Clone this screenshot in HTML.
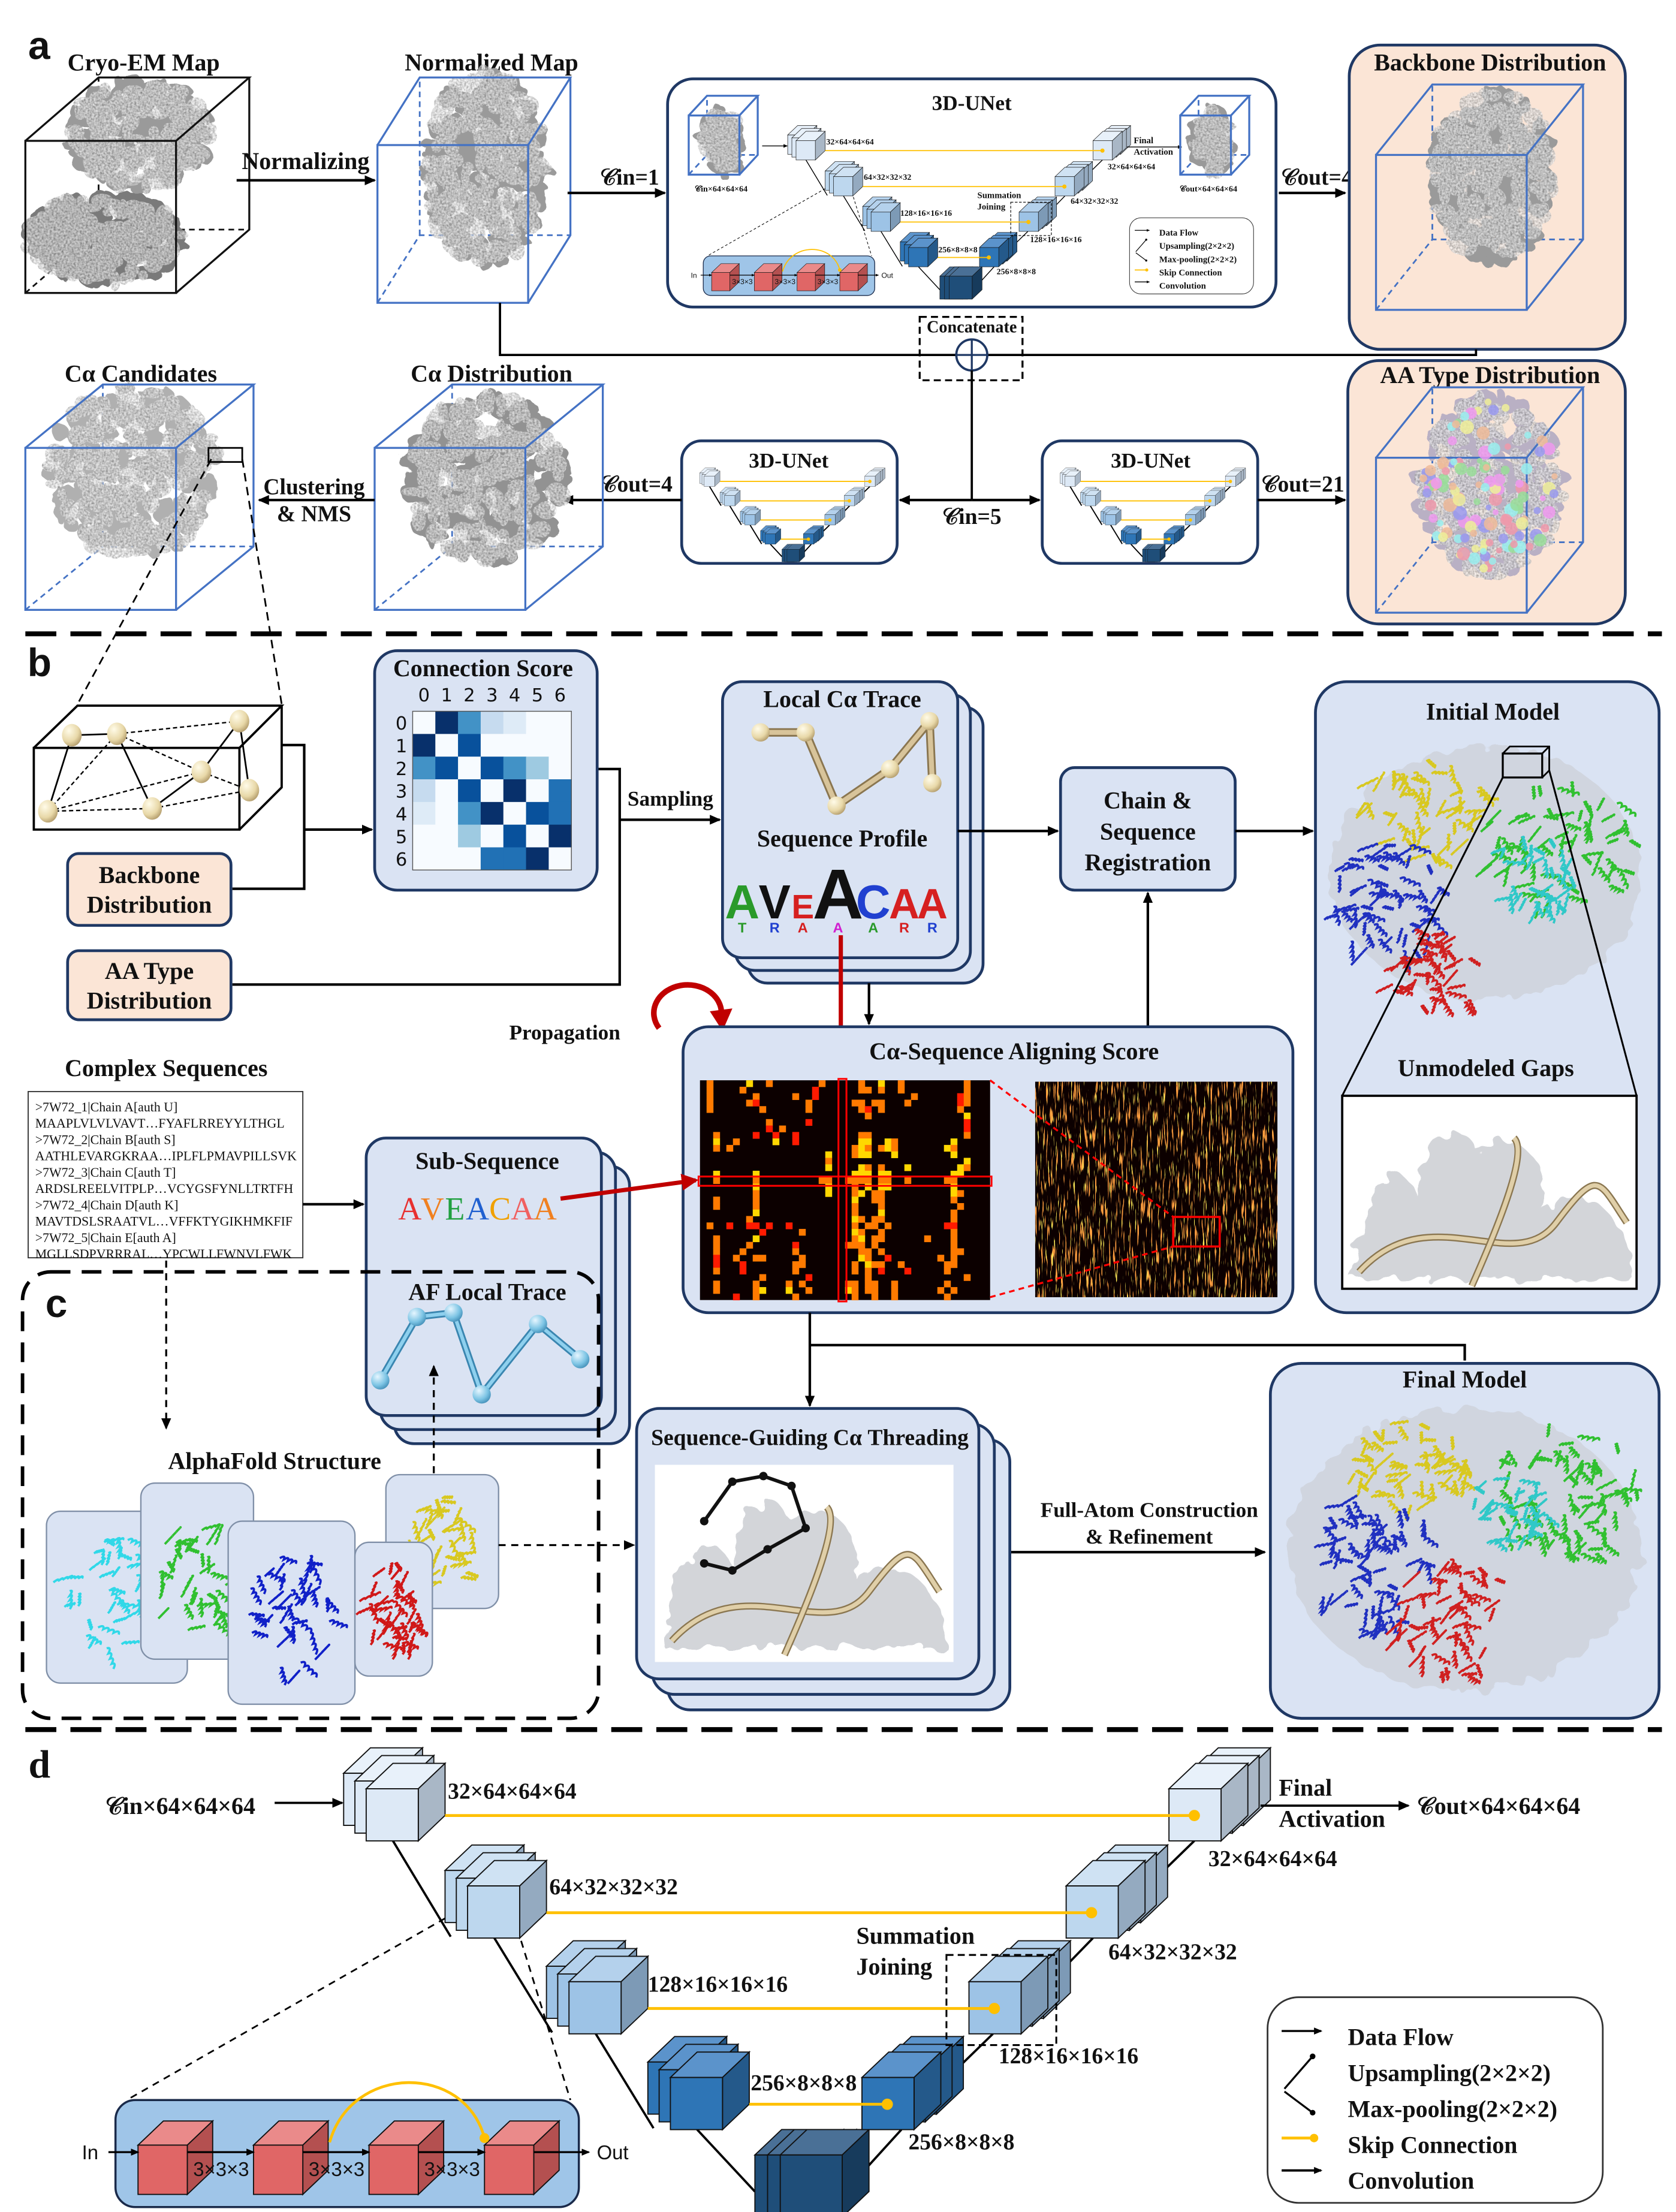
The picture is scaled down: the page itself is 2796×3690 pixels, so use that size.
<!DOCTYPE html>
<html><head><meta charset="utf-8">
<style>
html,body{margin:0;padding:0;background:#fff;}
svg{display:block;}
text{font-family:"Liberation Serif",serif;font-weight:bold;}
</style></head>
<body>
<svg id="fig" xmlns="http://www.w3.org/2000/svg" width="2796" height="3690" viewBox="0 0 1190 1570.5">
<defs>
<filter id="grain" x="0" y="0" width="100%" height="100%">
<feTurbulence type="fractalNoise" baseFrequency="0.7" numOctaves="2" seed="3" result="n"/>
<feColorMatrix in="n" type="matrix" values="1.2 0 0 0 0 1.2 0 0 0 0 1.2 0 0 0 0 0 0 0 0 1" result="g"/>
<feComposite in="g" in2="SourceGraphic" operator="in"/>
</filter>
<filter id="rough"><feTurbulence type="fractalNoise" baseFrequency="0.12" numOctaves="2" seed="7" result="t"/><feDisplacementMap in="SourceGraphic" in2="t" scale="6"/></filter>
<filter id="rough2"><feTurbulence type="fractalNoise" baseFrequency="0.08" numOctaves="2" seed="7" result="t"/><feDisplacementMap in="SourceGraphic" in2="t" scale="14"/></filter>
<filter id="streak" x="0" y="0" width="100%" height="100%">
<feTurbulence type="fractalNoise" baseFrequency="0.9 0.06" numOctaves="2" seed="5" result="n"/>
<feColorMatrix in="n" type="matrix" values="0 0 0 0 1  0 0 0 0 0.35  0 0 0 0 0.05  14 0 0 0 -8.6" result="a"/>
<feComposite in="a" in2="SourceGraphic" operator="in"/>
</filter>
<filter id="streak2" x="0" y="0" width="100%" height="100%">
<feTurbulence type="fractalNoise" baseFrequency="1.1 0.08" numOctaves="2" seed="19" result="n"/>
<feColorMatrix in="n" type="matrix" values="0 0 0 0 1  0 0 0 0 0.85  0 0 0 0 0.1  14 0 0 0 -9.4" result="a"/>
<feComposite in="a" in2="SourceGraphic" operator="in"/>
</filter>
<marker id="ah" markerWidth="8" markerHeight="8" refX="7" refY="4" orient="auto" markerUnits="userSpaceOnUse"><path d="M0,0.5 L8,4 L0,7.5 z" fill="#000"/></marker>
<marker id="ahs" markerWidth="6" markerHeight="6" refX="5" refY="3" orient="auto" markerUnits="userSpaceOnUse"><path d="M0,0.5 L6,3 L0,5.5 z" fill="#000"/></marker>
<marker id="ahr" markerWidth="12" markerHeight="12" refX="10" refY="6" orient="auto" markerUnits="userSpaceOnUse"><path d="M0,0 L12,6 L0,12 z" fill="#c00000"/></marker>
<radialGradient id="ball" cx="0.35" cy="0.3" r="0.8"><stop offset="0" stop-color="#fffbe8"/><stop offset="0.6" stop-color="#e8d8a8"/><stop offset="1" stop-color="#a89060"/></radialGradient>
<radialGradient id="ballb" cx="0.35" cy="0.3" r="0.8"><stop offset="0" stop-color="#e6f6ff"/><stop offset="0.6" stop-color="#7cc4e4"/><stop offset="1" stop-color="#3a86b0"/></radialGradient>
</defs>
<g id="root"></g>
</svg>
<script>
// ---------- chart data ----------
const connLabels = ['0','1','2','3','4','5','6'];
const connRow0 = [0,4,2.5,1.3,0.5,0,0];
const connRow1 = [4,0,3.5,0,0,0,0];
const connRow2 = [2.5,3.5,0,3.6,2.7,1.8,0];
const connRow3 = [1.3,0,3.6,0,4.2,0,3];
const connRow4 = [0.5,0,2.7,4.2,0,3.8,3.3];
const connRow5 = [0,0,1.8,0,3.8,0,4];
const connRow6 = [0,0,0,3,3.3,4,0];
const connRows = [connRow0,connRow1,connRow2,connRow3,connRow4,connRow5,connRow6];
// aligning score grid: '.'=0, r=red, o=orange, y=yellow
const alignRows = [
'.o.....y..o.......o.....o..y..o.........o...',
'.o....o..........r......oo.o..o.........o...',
'.o......o.....o..r..............o......ro...',
'.o.....or.......o......oo.oo...o.......ro...',
'.o.......o......o.......or.o...........o....',
'.........................o..............y...',
'..........o.....r.......................r...',
'..........r.o...........................r...',
'..o.....r..r..r.........oo..............o...',
'..y..o.....y..r.........yy..yo........y.....',
'..o.o..................oyo.oyo.......yo.....',
'...................y...oyy...y........y.....',
'...................o....................y...',
'...................y....yo.o...y.......yo...',
'..y.....y..............yyy.yy.........yy....',
'..o.....o.........oo..oooo.oo..o.....oo.....',
'........y..........y...o.y.yy.........y.....',
'........o..........y...oy.oo..........yo....',
'..o.....o..............y..oo..........o.....',
'..o.....o..............o...o...........o....',
'........y..............o...y..........o.....',
'.......o...............yo.oo..........o.....',
'.o..r..rr.r..r.........o.oo.o........rr.....',
'.........r.....o.......yo..o..........o.....',
'..o.....y..............oy.oo......o...o.....',
'..o....o......r.......ooo.o...........o.....',
'..o...o.......o.........oo.o..........oo....',
'..r..o..oo.....o........yo..r.......o.o.....',
'..r...r.......oo.......o.yoo..o......oo.....',
'..o...r.......o........o.o.r...r.....o......',
'.........o......r........o..............o...',
'..o.....o....o.o......oo.oo..o.......o......',
'..o.....oy...y..o.....yo.oo..o......o.o.....',
'.....r..o.....o........o..o..o.......o......'
];
const alignHighlightCol = [21];
const alignHighlightRow = [15];

const NS='http://www.w3.org/2000/svg';
const root=document.getElementById('root');
function mk(tag,attrs,parent){const e=document.createElementNS(NS,tag);for(const k in attrs)e.setAttribute(k,attrs[k]);(parent||root).appendChild(e);return e;}
function txt(x,y,s,size,parent,anchor,extra){const e=mk('text',Object.assign({x:x,y:y,'font-size':size,'text-anchor':anchor||'middle',fill:'#111'},extra||{}),parent);e.textContent=s;return e;}

// ---------- cube helpers ----------
function solidCube(p,x,y,w,d,cf,ct,cs){
 const g=mk('g',{},p);
 
 
 mk('path',{d:`M${x},${y} L${x+d},${y-d*0.95} L${x+w+d},${y-d*0.95} L${x+w},${y} z`,fill:ct,stroke:'#111','stroke-width':0.8},g);
 mk('path',{d:`M${x+w},${y} L${x+w+d},${y-d*0.95} L${x+w+d},${y+w-d*0.95} L${x+w},${y+w} z`,fill:cs,stroke:'#111','stroke-width':0.8},g);
 mk('rect',{x:x,y:y,width:w,height:w,fill:cf,stroke:'#111','stroke-width':0.8},g);
 return g;
}
function stack(p,x,y,pal,dir,w,d){
 w=w||37;d=d||19;
 const g=mk('g',{},p);
 
 
 if(dir>0){for(let i=2;i>=0;i--)solidCube(g,x-8*i,y-5.5*i,w,d,pal[0],pal[1],pal[2]);}
 else{for(let i=2;i>=0;i--)solidCube(g,x+8*i,y-5.5*i,w,d,pal[0],pal[1],pal[2]);}
 return g;
}
const P1=['#dde9f6','#e8f1fa','#a9b7c6'],P2=['#bdd7ee','#cfe2f3','#94aac0'],P3=['#9dc3e6','#b4d1ec','#7d9ab6'],P4=['#2e75b6','#5b93cb','#24598a'],P5=['#1f4e79','#4a7096','#173b5c'];

function unet(p,tr,mode){
 const g=mk('g',{transform:tr},p);
 
 
 const lw=mode==='mini'?4:1.6;
 const sk=[[316,1289,848,1289],[388,1358,775,1358],[460,1426,706,1426],[532,1494,630,1494]];
 const cl=[[279,1307,320,1375],[351,1376,392,1443],[423,1444,464,1511],[495,1512,536,1556],[600,1556,640,1512],[668,1480,705,1444],[743,1410,776,1376],[812,1342,848,1307]];
 cl.forEach(c=>{mk('line',{x1:c[0],y1:c[1],x2:c[2],y2:c[3],stroke:'#000','stroke-width':lw},g);});
 stack(g,260,1270,P1,1);stack(g,332,1339,P2,1);stack(g,404,1407,P3,1);stack(g,476,1475,P4,1);
 const b=mk('g',{},g);
 
 
 for(let i=0;i<3;i++)solidCube(b,536+9*i,1530,44,19,P5[0],P5[1],P5[2]);
 stack(g,612,1475,P4,-1);stack(g,688,1407,P3,-1);stack(g,757,1339,P2,-1);stack(g,830,1270,P1,-1);
 sk.forEach(s=>{mk('line',{x1:s[0],y1:s[1],x2:s[2],y2:s[3],stroke:'#ffc000','stroke-width':mode==='mini'?4:2},g);mk('circle',{cx:s[2],cy:s[3],r:mode==='mini'?6:4,fill:'#ffc000'},g);});
 if(mode==='mini')return g;
 const fs=16;
 txt(318,1277,'32×64×64×64',fs,g,'start');
 txt(390,1345,'64×32×32×32',fs,g,'start');
 txt(460,1414,'128×16×16×16',fs,g,'start');
 txt(533,1484,'256×8×8×8',fs,g,'start');
 txt(858,1325,'32×64×64×64',fs,g,'start');
 txt(787,1391,'64×32×32×32',fs,g,'start');
 txt(709,1465,'128×16×16×16',fs,g,'start');
 txt(645,1526,'256×8×8×8',fs,g,'start');
 txt(608,1380,'Summation',17,g,'start');
 txt(608,1402,'Joining',17,g,'start');
 mk('rect',{x:672,y:1388,width:78,height:64,fill:'none',stroke:'#000','stroke-width':1.3,'stroke-dasharray':'5 3'},g);
 txt(908,1275,'Final',17,g,'start');
 txt(908,1297,'Activation',17,g,'start');
 mk('line',{x1:895,y1:1282,x2:1000,y2:1282,stroke:'#000','stroke-width':1.6,'marker-end':'url(#ah)'},g);
 mk('line',{x1:195,y1:1280,x2:243,y2:1280,stroke:'#000','stroke-width':1.6,'marker-end':'url(#ah)'},g);
 const lg=mk('g',{},g);
 
 
 mk('rect',{x:900,y:1418,width:238,height:146,rx:22,fill:'#fff',stroke:'#333','stroke-width':1.2},lg);
 const items=['Data Flow','Upsampling(2×2×2)','Max-pooling(2×2×2)','Skip Connection','Convolution'];
 items.forEach((t,i)=>{const y=1447+25.5*i;txt(957,y+5,t,17,lg,'start');});
 mk('line',{x1:910,y1:1442,x2:938,y2:1442,stroke:'#000','stroke-width':1.4,'marker-end':'url(#ahs)'},lg);
 mk('line',{x1:912,y1:1483,x2:932,y2:1460,stroke:'#000','stroke-width':1.4},lg);mk('circle',{cx:932,cy:1460,r:2,fill:'#000'},lg);
 mk('line',{x1:912,y1:1485,x2:932,y2:1500,stroke:'#000','stroke-width':1.4},lg);mk('circle',{cx:932,cy:1500,r:2,fill:'#000'},lg);
 mk('line',{x1:910,y1:1518,x2:932,y2:1518,stroke:'#ffc000','stroke-width':2},lg);mk('circle',{cx:933,cy:1518,r:3,fill:'#ffc000'},lg);
 mk('line',{x1:910,y1:1541,x2:938,y2:1541,stroke:'#000','stroke-width':1.6,'marker-end':'url(#ahs)'},lg);
 const ins=mk('g',{},g);
 
 
 mk('line',{x1:316,y1:1362,x2:90,y2:1491,stroke:'#000','stroke-width':1.2,'stroke-dasharray':'5 4'},g);
 mk('line',{x1:370,y1:1378,x2:405,y2:1491,stroke:'#000','stroke-width':1.2,'stroke-dasharray':'5 4'},g);
 mk('rect',{x:82,y:1491,width:329,height:76,rx:14,fill:'#9fc5e8',stroke:'#1a2a4a','stroke-width':1.5},ins);
 for(let i=0;i<4;i++)solidCube(ins,98+82*i,1523,35,18,'#e06666','#ea8a8a','#b45050');
 for(let i=0;i<4;i++){const x0=i===0?77:133+82*(i-1);const x1=98+82*i;mk('line',{x1:x0,y1:1528,x2:x1,y2:1528,stroke:'#000','stroke-width':1.4,'marker-end':'url(#ahs)'},ins);}
 mk('line',{x1:379,y1:1528,x2:418,y2:1528,stroke:'#000','stroke-width':1.4,'marker-end':'url(#ahs)'},ins);
 for(let i=0;i<3;i++)txt(157+82*i,1545,'3×3×3',14,ins,'middle',{style:'font-family:"Liberation Sans",sans-serif;font-weight:normal'});
 txt(64,1533,'In',14,ins,'middle',{style:'font-family:"Liberation Sans",sans-serif;font-weight:normal'});
 txt(435,1533,'Out',14,ins,'middle',{style:'font-family:"Liberation Sans",sans-serif;font-weight:normal'});
 mk('path',{d:'M234,1521 C250,1465 330,1465 344,1518',fill:'none',stroke:'#ffc000','stroke-width':2},ins);
 mk('circle',{cx:344,cy:1518,r:3.5,fill:'#ffc000'},ins);
 return g;
}

// ---------- density map / wire cubes ----------
let seed=11;function rnd(){seed=(seed*16807)%2147483647;return seed/2147483647;}
function blob(p,cx,cy,rx,ry,n,col){
 const g=mk('g',{filter:'url(#rough)'},p);
 
 
 for(let i=0;i<n;i++){const a=rnd()*6.28,r=Math.sqrt(rnd());mk('ellipse',{cx:cx+Math.cos(a)*rx*r,cy:cy+Math.sin(a)*ry*r,rx:3+rnd()*6,ry:3+rnd()*5,fill:col},g);}
 const t=mk('g',{filter:'url(#grain)',opacity:0.7},p);
 for(let i=0;i<n;i++){const a=rnd()*6.28,r=Math.sqrt(rnd());mk('ellipse',{cx:cx+Math.cos(a)*rx*r,cy:cy+Math.sin(a)*ry*r,rx:3+rnd()*5,ry:3+rnd()*5,fill:'#fff'},t);}
}
function wireCube(p,name,x,y,w,h,dx,dy,col,blobs){
 const g=mk('g',{},p);
 
 
 mk('path',{d:`M${x},${y+h} L${x+dx},${y+h+dy} L${x+dx+w},${y+h+dy} M${x+dx},${y+h+dy} L${x+dx},${y+dy}`,fill:'none',stroke:col,'stroke-width':1.2,'stroke-dasharray':'4 3'},g);
 blobs.forEach(b=>blob(g,b[0],b[1],b[2],b[3],b[4],b[5]));
 mk('path',{d:`M${x},${y} L${x+dx},${y+dy} L${x+dx+w},${y+dy} L${x+w},${y} M${x+dx+w},${y+dy} L${x+dx+w},${y+dy+h} L${x+w},${y+h}`,fill:'none',stroke:col,'stroke-width':1.4},g);
 mk('rect',{x:x,y:y,width:w,height:h,fill:'none',stroke:col,'stroke-width':1.4},g);
 return g;
}
function line(pts,opts,p){return mk('polyline',Object.assign({points:pts.map(q=>q.join(',')).join(' '),fill:'none',stroke:'#000','stroke-width':1.8},opts||{}),p);}
function rbox(x,y,w,h,fill,name,p,rx){const r=mk('rect',{x:x,y:y,width:w,height:h,rx:rx||16,fill:fill,stroke:'#1f3864','stroke-width':2},p);return r;}

// ================= SECTION A =================
const A=mk('g',{});


txt(20,42,'a',28,A,'start',{style:'font-family:"Liberation Sans",sans-serif'});
txt(102,50,'Cryo-EM Map',17,A);
wireCube(A,'cryo-em-map',18,100,107,108,52,-45,'#111',[[100,95,50,38,160,'#9a9a9a'],[75,170,55,30,180,'#7a7a7a']]);
txt(217,120,'Normalizing',17,A);
line([[168,128],[266,128]],{'marker-end':'url(#ah)'},A);
txt(349,50,'Normalized Map',17,A);
wireCube(A,'normalized-map',268,103,107,112,30,-48,'#4472c4',[[345,120,42,68,200,'#9a9a9a']]);
line([[403,137],[472,137]],{'marker-end':'url(#ah)'},A);
txt(447,131,'𝒞in=1',16,A);
rbox(474,56,432,162,'#fff','unet-box',A,18);
txt(690,78,'3D-UNet',15,A);
unet(A,'translate(469,-370) scale(0.37)','full');
wireCube(A,'unet-input-map',489,82,36,42,13,-14,'#4472c4',[[512,100,12,22,50,'#999']]);
wireCube(A,'unet-output-map',838,82,36,42,13,-14,'#4472c4',[[860,100,12,22,50,'#999']]);
txt(512,136,'𝒞in×64×64×64',6,A);txt(858,136,'𝒞out×64×64×64',6,A);
line([[908,137],[955,137]],{'marker-end':'url(#ah)'},A);
txt(935,131,'𝒞out=4',16,A);
rbox(958,32,196,216,'#fbe5d6','backbone-distribution-box',A,22);
txt(1058,50,'Backbone Distribution',17,A);
wireCube(A,'backbone-map',977,110,107,110,40,-50,'#4472c4',[[1060,125,42,60,200,'#9a9a9a']]);
line([[355,215],[355,252],[679,252]],{'stroke-width':1.6},A);
line([[701,252],[1048,252],[1048,248]],{'stroke-width':1.6},A);
const cc=mk('rect',{x:653,y:225,width:73,height:45,fill:'none',stroke:'#000','stroke-width':1.4,'stroke-dasharray':'5 3'},A);


txt(690,236,'Concatenate',12,A);
mk('circle',{cx:690,cy:252,r:11,fill:'#fff',stroke:'#1f3864','stroke-width':1.6},A);
line([[679,252],[701,252]],{'stroke':'#1f3864','stroke-width':1.4},A);line([[690,241],[690,263]],{'stroke':'#1f3864','stroke-width':1.4},A);
line([[690,263],[690,355]],{'stroke-width':1.6},A);
line([[690,355],[639,355]],{'marker-end':'url(#ah)'},A);
line([[690,355],[738,355]],{'marker-end':'url(#ah)'},A);
txt(690,372,'𝒞in=5',16,A);
rbox(484,313,153,87,'#fff','unet-box-calpha',A,14);
txt(560,332,'3D-UNet',15,A);
unet(A,'translate(448,84) scale(0.2)','mini');
rbox(740,313,153,87,'#fff','unet-box-aatype',A,14);
txt(817,332,'3D-UNet',15,A);
unet(A,'translate(704,84) scale(0.2)','mini');
line([[484,355],[400,355]],{'marker-end':'url(#ah)'},A);
txt(452,349,'𝒞out=4',16,A);
line([[893,355],[955,355]],{'marker-end':'url(#ah)'},A);
txt(925,349,'𝒞out=21',16,A);
txt(100,271,'Cα Candidates',17,A);
wireCube(A,'calpha-candidates',18,318,107,115,55,-45,'#4472c4',[[95,335,60,60,200,'#b0b0b0']]);
mk('rect',{x:148,y:318,width:24,height:10,fill:'none',stroke:'#000','stroke-width':1.2},A);
txt(349,271,'Cα Distribution',17,A);
wireCube(A,'calpha-distribution',266,318,107,115,55,-45,'#4472c4',[[345,340,55,60,220,'#929292']]);
txt(223,351,'Clustering',16,A);txt(223,370,'& NMS',16,A);
line([[266,355],[184,355]],{'marker-end':'url(#ah)'},A);
rbox(957,256,197,187,'#fbe5d6','aa-type-distribution-box',A,22);
txt(1058,272,'AA Type Distribution',17,A);
wireCube(A,'aa-type-map',977,325,107,110,40,-50,'#4472c4',[[1058,345,50,62,200,'#b9b0c4']]);
const aaCol=['#e9a','#9d9','#99e','#ee9','#e9e','#9ee','#eb9'];
for(let i=0;i<120;i++){const a=rnd()*6.28,r=Math.sqrt(rnd());mk('circle',{cx:1058+Math.cos(a)*48*r,cy:345+Math.sin(a)*60*r,r:2+rnd()*3,fill:aaCol[i%7],opacity:0.85},A);}
line([[18,450],[1180,450]],{'stroke-width':3.5,'stroke-dasharray':'22 10'},A);

// ================= SECTION B =================
const B=mk('g',{});


txt(28,480,'b',28,B,'middle',{style:'font-family:"Liberation Sans",sans-serif'});
line([[150,326],[55,500]],{'stroke-width':1.2,'stroke-dasharray':'6 4'},B);
line([[172,326],[200,500]],{'stroke-width':1.2,'stroke-dasharray':'6 4'},B);
const gb=mk('g',{},B);


mk('path',{d:'M24,531 L55,501 L200,501 L170,531 M200,501 L200,559 L170,589',fill:'none',stroke:'#000','stroke-width':1.6},gb);
mk('rect',{x:24,y:531,width:146,height:58,fill:'none',stroke:'#000','stroke-width':1.6},gb);
const nodes=[[51,522],[83,521],[170,512],[143,548],[177,561],[34,576],[108,574]];
[[0,1],[0,5],[1,6],[6,3],[3,2],[2,4]].forEach(e=>line([nodes[e[0]],nodes[e[1]]],{'stroke-width':1.2},gb));
[[1,2],[1,3],[3,4],[5,1],[5,3],[5,6],[6,4]].forEach(e=>line([nodes[e[0]],nodes[e[1]]],{'stroke-width':1,'stroke-dasharray':'3 2'},gb));
nodes.forEach(n=>mk('ellipse',{cx:n[0],cy:n[1],rx:7,ry:8,fill:'url(#ball)'},gb));
rbox(48,606,116,51,'#fbe5d6','backbone-distribution-label',B,8);
txt(106,627,'Backbone',17,B);txt(106,648,'Distribution',17,B);
rbox(48,675,116,49,'#fbe5d6','aa-type-distribution-label',B,8);
txt(106,695,'AA Type',17,B);txt(106,716,'Distribution',17,B);
line([[200,529],[216,529],[216,631],[165,631]],{},B);
line([[216,589],[264,589]],{'marker-end':'url(#ah)'},B);
line([[165,699],[440,699],[440,546],[424,546]],{},B);
line([[440,582],[511,582]],{'marker-end':'url(#ah)'},B);
txt(476,572,'Sampling',15,B);
rbox(266,462,158,170,'#dae3f3','connection-score-box',B,16);
txt(343,480,'Connection Score',17,B);
const blues=['#f7fbff','#deebf7','#c6dbef','#9ecae1','#6baed6','#4292c6','#2171b5','#08519c','#08306b'];
function bluesColor(v){const t=Math.max(0,Math.min(1,v/4.2))*(blues.length-1);return blues[Math.round(t)];}
const hx0=293,hy0=505,cw=16.1;
const xScale=i=>hx0+i*cw, yScale=i=>hy0+i*cw;
const hm=mk('g',{},B);


connRows.forEach((row,ri)=>row.forEach((v,ci)=>{
 const c=mk('rect',{x:xScale(ci),y:yScale(ri),width:cw+0.3,height:cw+0.3,fill:bluesColor(v)},hm);
 
 
}));
mk('rect',{x:hx0,y:hy0,width:cw*7,height:cw*7,fill:'none',stroke:'#555','stroke-width':0.6},hm);
connLabels.forEach((l,i)=>{
 const t1=txt(xScale(i)+cw/2,498,l,13,hm,'middle',{style:'font-family:"DejaVu Sans",sans-serif;font-weight:normal'});
 
 const t2=txt(285,yScale(i)+cw/2+5,l,13,hm,'middle',{style:'font-family:"DejaVu Sans",sans-serif;font-weight:normal'});
 
});
for(let i=2;i>=0;i--)rbox(513+9*i,484+9*i,167,196,'#dae3f3','local-trace-card',B,14);
txt(598,502,'Local Cα Trace',17,B);
const tn=[[540,520],[572,520],[594,572],[632,546],[660,512],[662,556]];
line(tn,{stroke:'#8a7650','stroke-width':6,'stroke-linejoin':'round'},B);
line(tn,{stroke:'#d8c49a','stroke-width':3.5,'stroke-linejoin':'round'},B);
tn.forEach(n=>mk('circle',{cx:n[0],cy:n[1],r:6.5,fill:'url(#ball)'},B));
txt(598,601,'Sequence Profile',17,B);
const logo=[['A','#2a9a2a',34],['V','#111',34],['E','#d62020',24],['A','#111',50],['C','#2040d0',34],['A','#d62020',30],['A','#d62020',30]];
const lx=[527,550,570,595,620,642,662];
logo.forEach((l,i)=>{const t=txt(lx[i],652,l[0],l[2],B,'middle',{style:'font-family:"Liberation Sans",sans-serif',fill:l[1]});});
['T','R','A','A','A','R','R'].forEach((s,i)=>txt(lx[i],662,s,10,B,'middle',{style:'font-family:"Liberation Sans",sans-serif',fill:['#2a9a2a','#2040d0','#d62020','#d020d0','#2a9a2a','#d62020','#2040d0'][i]}));
line([[617,698],[617,727]],{'marker-end':'url(#ah)'},B);
line([[597,664],[597,764]],{stroke:'#c00000','stroke-width':3,'marker-end':'url(#ahr)'},B);
rbox(753,545,124,87,'#dae3f3','chain-sequence-registration-box',B,10);
txt(815,574,'Chain &',17,B);txt(815,596,'Sequence',17,B);txt(815,618,'Registration',17,B);
line([[680,590],[751,590]],{'marker-end':'url(#ah)'},B);
line([[877,590],[932,590]],{'marker-end':'url(#ah)'},B);
line([[815,729],[815,634]],{'marker-end':'url(#ah)'},B);
rbox(934,484,244,448,'#dae3f3','initial-model-box',B,22);
txt(1060,511,'Initial Model',17,B);
function protein(p,name,cx,cy,rx,ry,col,n){
 const g=mk('g',{},p);
 
 
 for(let i=0;i<n;i++){const a=rnd()*6.28,r=Math.sqrt(rnd());const x=cx+Math.cos(a)*rx*r,y=cy+Math.sin(a)*ry*r;const L=6+rnd()*10,an=rnd()*3.14;
  let d=`M${x},${y}`;for(let k=1;k<=4;k++){d+=` q${Math.cos(an)*L/8+3},${Math.sin(an)*L/8-3} ${Math.cos(an)*L/4},${Math.sin(an)*L/4}`;}
  mk('path',{d:d,fill:'none',stroke:col,'stroke-width':1.6},g);}
 return g;
}
mk('ellipse',{cx:1055,cy:620,rx:110,ry:90,fill:'#c8c8cc',opacity:0.5,filter:'url(#rough2)'},B);
protein(B,'chain-yellow',1010,575,45,35,'#d8c820',55);
protein(B,'chain-green',1110,600,55,45,'#30c030',70);
protein(B,'chain-cyan',1090,620,30,30,'#30c8c8',35);
protein(B,'chain-blue',985,640,40,45,'#2030c0',60);
protein(B,'chain-red',1015,690,35,35,'#d02020',45);
mk('rect',{x:1067,y:535,width:28,height:17,fill:'none',stroke:'#000','stroke-width':1.4},B);
mk('path',{d:'M1067,535 l5,-5 h28 v17 l-5,5 M1095,535 l5,-5',fill:'none',stroke:'#000','stroke-width':1.2},B);
line([[1067,552],[953,778]],{'stroke-width':1.3},B);line([[1100,547],[1162,778]],{'stroke-width':1.3},B);
txt(1055,764,'Unmodeled Gaps',17,B);
const gp=mk('rect',{x:953,y:778,width:209,height:137,fill:'#fff',stroke:'#000','stroke-width':1.6},B);


function gapScene(p,x,y){
 mk('path',{d:`M${x+5},${y+130} C${x+10},${y+60} ${x+40},${y+40} ${x+50},${y+70} C${x+60},${y+30} ${x+80},${y+10} ${x+95},${y+40} C${x+110},${y+20} ${x+150},${y+40} ${x+140},${y+80} C${x+170},${y+60} ${x+200},${y+80} ${x+205},${y+130} Z`,fill:'#c9cbd0',opacity:0.8,filter:'url(#rough2)'},p);
 mk('path',{d:`M${x+10},${y+125} C${x+60},${y+70} ${x+120},${y+130} ${x+150},${y+90} S${x+180},${y+60} ${x+200},${y+90}`,fill:'none',stroke:'#8a7650','stroke-width':5},p);
 mk('path',{d:`M${x+10},${y+125} C${x+60},${y+70} ${x+120},${y+130} ${x+150},${y+90} S${x+180},${y+60} ${x+200},${y+90}`,fill:'none',stroke:'#e0cfa8','stroke-width':3},p);
 mk('path',{d:`M${x+90},${y+135} C${x+110},${y+90} ${x+130},${y+40} ${x+120},${y+30}`,fill:'none',stroke:'#8a7650','stroke-width':5},p);
 mk('path',{d:`M${x+90},${y+135} C${x+110},${y+90} ${x+130},${y+40} ${x+120},${y+30}`,fill:'none',stroke:'#e0cfa8','stroke-width':3},p);
}
gapScene(B,955,778);
txt(401,738,'Propagation',15,B);
const pa=mk('path',{d:'M468,730 A24,20 0 1 1 512,722',fill:'none',stroke:'#c00000','stroke-width':4},B);


mk('path',{d:'M504,718 L520,716 L513,732 z',fill:'#c00000'},B);
rbox(485,729,433,203,'#dae3f3','aligning-score-box',B,18);
txt(720,752,'Cα-Sequence Aligning Score',17,B);
const ax0=497,ay0=767,acw=206/44,ach=156/34;
const axs=i=>ax0+i*acw, ays=i=>ay0+i*ach;
const amap={'r':'#ff1a00','o':'#ff7a00','y':'#ffd700'};
const am=mk('g',{},B);


mk('rect',{x:ax0,y:ay0,width:acw*44,height:ach*34,fill:'#0c0000'},am);
alignRows.forEach((row,ri)=>{for(let ci=0;ci<row.length;ci++){const ch=row[ci];if(ch==='.')continue;
 const c=mk('rect',{x:axs(ci),y:ays(ri),width:acw+0.2,height:ach+0.2,fill:amap[ch]},am);
 
 }});
alignHighlightCol.forEach(c=>mk('rect',{x:axs(c),y:ay0-1,width:acw+1,height:ach*34+2,fill:'none',stroke:'#ff0000','stroke-width':1.3},am));
alignHighlightRow.forEach(r=>mk('rect',{x:ax0-1,y:ays(r)-0.5,width:acw*44+2,height:ach+2,fill:'none',stroke:'#ff0000','stroke-width':1.3},am));
const dmg=mk('g',{},B);


mk('rect',{x:735,y:768,width:172,height:153,fill:'#0c0000'},dmg);
mk('rect',{x:735,y:768,width:172,height:153,fill:'#fff',filter:'url(#streak)'},dmg);
mk('rect',{x:735,y:768,width:172,height:153,fill:'#fff',filter:'url(#streak2)'},dmg);
mk('rect',{x:833,y:864,width:33,height:21,fill:'none',stroke:'#ff0000','stroke-width':1.5},B);
line([[703,767],[833,864]],{stroke:'#ff0000','stroke-width':1.4,'stroke-dasharray':'4 3'},B);
line([[703,921],[833,885]],{stroke:'#ff0000','stroke-width':1.4,'stroke-dasharray':'4 3'},B);
txt(118,764,'Complex Sequences',17,B);
const cs=mk('rect',{x:20,y:775,width:195,height:118,fill:'#fff',stroke:'#333','stroke-width':0.8},B);


['>7W72_1|Chain A[auth U]','MAAPLVLVLVAVT…FYAFLRREYYLTHGL','>7W72_2|Chain B[auth S]','AATHLEVARGKRAA…IPLFLPMAVPILLSVK','>7W72_3|Chain C[auth T]','ARDSLREELVITPLP…VCYGSFYNLLTRTFH','>7W72_4|Chain D[auth K]','MAVTDSLSRAATVL…VFFKTYGIKHMKFIF','>7W72_5|Chain E[auth A]','MGLLSDPVRRRAL…YPCWLLFWNVLFWK'].forEach((s,i)=>txt(25,789+11.6*i,s,9.3,B,'start',{style:'font-weight:normal'}));
line([[215,855],[258,855]],{'marker-end':'url(#ah)'},B);
for(let i=2;i>=0;i--)rbox(260+10*i,808+10*i,167,197,'#dae3f3','sub-sequence-card',B,14);
txt(346,830,'Sub-Sequence',17,B);
const ss=[['A','#e83030'],['V','#f08020'],['E','#20a040'],['A','#2060d0'],['C','#f0a000'],['A','#f06060'],['A','#f08020']];
ss.forEach((l,i)=>txt(291+16*i,866,l[0],23,B,'middle',{style:'font-weight:normal',fill:l[1]}));
line([[398,851],[494,838]],{stroke:'#c00000','stroke-width':3,'marker-end':'url(#ahr)'},B);
txt(346,923,'AF Local Trace',17,B);
const an=[[270,980],[296,935],[322,932],[342,990],[382,940],[412,965]];
line(an,{stroke:'#3a86b0','stroke-width':5,'stroke-linejoin':'round'},B);
line(an,{stroke:'#8ed0ee','stroke-width':2.5,'stroke-linejoin':'round'},B);
an.forEach(n=>mk('circle',{cx:n[0],cy:n[1],r:6.5,fill:'url(#ballb)'},B));
const cbox=mk('rect',{x:16,y:903,width:409,height:317,rx:20,fill:'none',stroke:'#000','stroke-width':2.5,'stroke-dasharray':'14 8'},B);


txt(40,935,'c',28,B,'middle',{style:'font-family:"Liberation Sans",sans-serif'});
line([[118,895],[118,1014]],{'stroke-width':1.4,'stroke-dasharray':'5 4','marker-end':'url(#ah)'},B);
line([[308,1046],[308,970]],{'stroke-width':1.4,'stroke-dasharray':'5 4','marker-end':'url(#ah)'},B);
txt(195,1043,'AlphaFold Structure',17,B);
[[33,1073,100,122,'#30d8e8','af-chain-cyan'],[100,1053,80,125,'#30c030','af-chain-green'],[274,1047,80,95,'#d8c820','af-chain-yellow'],[162,1080,90,130,'#1020c8','af-chain-blue'],[252,1095,55,95,'#d01818','af-chain-red']].forEach(q=>{
 const r=mk('rect',{x:q[0],y:q[1],width:q[2],height:q[3],rx:10,fill:'#dae3f3',stroke:'#8090a8','stroke-width':1},B);
 
 
 protein(B,q[5],q[0]+q[2]/2,q[1]+q[3]/2,q[2]*0.35,q[3]*0.35,q[4],40);
});
line([[354,1097],[450,1097]],{'stroke-width':1.4,'stroke-dasharray':'5 4','marker-end':'url(#ah)'},B);
line([[575,932],[575,998]],{'marker-end':'url(#ah)'},B);
line([[575,955],[1040,955],[1040,966]],{},B);
for(let i=2;i>=0;i--)rbox(452+11*i,1000+11*i,243,192,'#dae3f3','threading-card',B,16);
txt(575,1026,'Sequence-Guiding Cα Threading',16,B);
const tr=mk('rect',{x:465,y:1040,width:212,height:140,fill:'#fff'},B);


gapScene(B,467,1040);
const bn=[[500,1080],[520,1052],[542,1048],[562,1055],[572,1085],[545,1100],[520,1115],[500,1110]];
line(bn,{stroke:'#111','stroke-width':2.5},B);
bn.forEach(n=>mk('circle',{cx:n[0],cy:n[1],r:3,fill:'#111'},B));
txt(816,1077,'Full-Atom Construction',15,B);txt(816,1096,'& Refinement',15,B);
line([[718,1102],[898,1102]],{'marker-end':'url(#ah)'},B);
rbox(902,968,276,252,'#dae3f3','final-model-box',B,22);
txt(1040,985,'Final Model',17,B);
mk('ellipse',{cx:1040,cy:1100,rx:125,ry:100,fill:'#c8c8cc',opacity:0.5,filter:'url(#rough2)'},B);
protein(B,'final-chain-yellow',1000,1040,45,30,'#d8c820',55);
protein(B,'final-chain-green',1110,1060,55,50,'#30c030',75);
protein(B,'final-chain-cyan',1070,1070,30,25,'#30c8c8',35);
protein(B,'final-chain-blue',975,1110,45,50,'#2030c0',70);
protein(B,'final-chain-red',1030,1150,40,45,'#d02020',60);
line([[18,1228],[1180,1228]],{'stroke-width':3.5,'stroke-dasharray':'22 10'},B);

// ================= SECTION D =================
const D=mk('g',{});


txt(28,1262,'d',28,D,'middle');
txt(128,1288,'𝒞in×64×64×64',17,D);
txt(1064,1288,'𝒞out×64×64×64',17,D);
unet(D,'','full');
</script>
</body></html>
